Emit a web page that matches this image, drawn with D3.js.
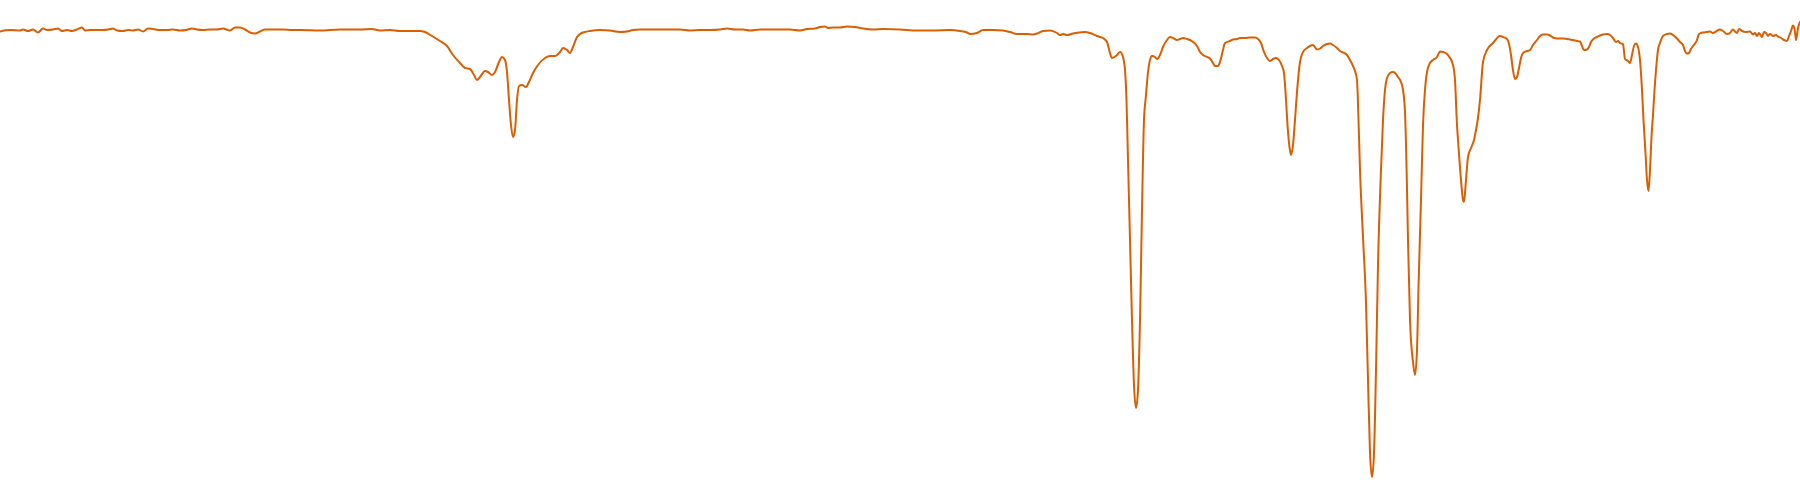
<!DOCTYPE html>
<html>
<head>
<meta charset="utf-8">
<script src="https://cdn.jsdelivr.net/npm/d3@7"></script>
<style>
html, body { margin: 0; padding: 0; background: #ffffff; }
svg { display: block; }
</style>
</head>
<body>
<svg id="chart" width="1800" height="500"></svg>
<script>
// Wavenumber (cm^-1)
const wavenumber = [
4000,3980,3960,3954,3944,3934,3924,3914,3906,3894,3884,3876,3866,3856,3846,3836,3830,3820,3806,3794,
3784,3774,3766,3754,3744,3734,3724,3714,3704,3694,3680,3666,3654,3640,3628,3616,3606,3594,3580,3566,
3554,3540,3530,3520,3510,3500,3490,3480,3470,3454,3434,3414,3400,
3360,3320,3280,3256,3240,3220,3200,3180,3160,3150,3136,3120,3106,3094,3080,3070,3060,3052,3046,3040,
3030,3024,3016,3010,3002,2996,2990,2986,2982,2978,2974,2970,2966,2962,2956,2948,2942,2934,2924,2910,
2900,2890,2880,2874,2866,2860,2854,2846,2840,2830,2820,2800,
2780,2760,2746,2734,2720,2700,2680,2660,2640,2620,2600,2580,2560,2546,2530,2514,2500,2480,2460,2440,
2420,2400,2386,2370,2360,2350,2344,2334,2320,2306,2290,2274,2254,2234,2200,
2166,2134,2100,2080,2066,2060,2046,2034,2014,1994,1980,1966,1946,1934,1926,1914,1900,1886,1880,1874,
1866,1854,1840,1830,1820,1806,1800,1794,1786,1780,1776,1766,1760,1754,1750,1747,1744,1740,1736,1732,
1728,1724,1720,1716,1712,1708,1704,1700,1696,1690,1686,1680,1674,1666,1660,1654,1646,1640,1634,1626,
1620,1614,1606,1600,
1594,1586,1580,1574,1570,1564,1560,1554,1550,1540,1534,1526,1520,1510,1500,1490,1484,1478,1472,1466,
1460,1454,1448,1442,1436,1432,1428,1425,1421,1418,1414,1410,1406,1400,1394,1386,1380,1374,1366,1360,
1354,1346,1340,1334,1326,1320,1314,1306,1300,1294,1290,1286,1283,1280,1274,1268,1264,1260,1256,1252,
1248,1244,1238,1234,1230,1226,1220,1214,1210,1204,1198,1194,1190,1187,1184,1180,1174,1170,1166,1163,
1158,1154,1150,1146,1140,1134,1126,1120,1114,1106,1100,1094,1090,1086,1083,1078,1074,1072,1068,1064,
1058,1052,1048,1044,1040,1034,1026,1014,1000,
994,986,982,978,974,970,966,962,958,954,946,940,934,926,920,914,906,900,894,886,
880,874,866,860,854,846,840,836,832,826,822,818,812,806,800,794,786,780,774,768,
764,760,754,750,744,740,736,732,728,724,720,716,713,709,706,703,700,697,694,691,
688,684,680,674,666,660,654,646,640,634,630,626,622,618,614,606,602,598,594,586,
580,574,568,560,554,546,540,534,530,526,522,516,508,500,494,490,486,482,476,472,
468,464,460,454,448,444,438,432,426,422,418,414,410,408,404,400
];

// Transmittance (%)
const transmittance = [
93.7,94.0,93.9,94.1,93.8,94.1,93.5,94.3,94.0,94.1,94.3,93.8,94.0,93.8,94.1,94.5,93.9,94.0,94.0,94.0,
94.1,94.3,93.9,93.8,94.0,93.9,94.1,93.7,94.3,94.2,94.0,94.0,94.1,93.9,94.0,94.3,94.1,94.0,94.1,94.1,
94.3,93.9,94.5,94.5,94.1,93.5,93.3,93.7,94.1,94.1,94.1,94.0,94.0,
93.9,94.1,94.1,94.2,93.9,94.0,93.8,93.8,93.8,93.6,92.8,91.8,90.8,89.0,87.4,86.4,86.2,85.0,84.0,84.6,
85.8,85.6,85.0,85.6,87.6,88.6,88.0,85.6,80.0,75.0,72.6,74.0,80.0,82.8,83.0,82.6,83.6,85.4,87.0,88.4,
88.8,88.8,89.6,90.4,90.0,89.4,90.6,92.6,93.2,93.6,93.8,94.0,
93.9,93.6,93.7,94.0,94.1,94.1,94.1,94.1,94.1,93.9,94.0,94.0,94.1,94.3,94.1,94.1,93.9,94.1,94.1,94.1,
94.1,93.9,94.2,94.3,94.6,94.7,94.4,94.5,94.5,94.7,94.6,94.3,94.1,94.2,94.1,
93.9,93.9,94.0,93.8,93.5,93.2,93.4,94.0,94.0,93.9,93.6,93.2,93.2,93.1,93.3,93.8,93.9,93.4,93.0,93.2,
93.0,93.3,93.5,93.6,93.4,92.8,92.6,92.4,91.6,89.4,88.4,89.0,89.6,88.6,86.0,80.0,68.0,52.0,36.0,23.0,
18.4,22.0,36.0,58.0,76.0,81.0,85.6,88.0,88.8,88.6,88.2,89.0,90.6,92.0,92.6,92.4,92.0,92.2,92.4,92.2,
92.0,91.6,90.8,89.6,
89.0,88.6,88.3,87.4,86.8,86.8,87.6,90.0,91.4,91.8,92.1,92.2,92.4,92.4,92.5,92.5,92.2,91.4,89.6,88.4,
87.8,88.2,88.4,88.0,86.8,85.4,80.0,75.0,70.6,69.0,71.0,76.0,81.6,87.6,89.6,90.4,90.8,91.0,90.1,90.3,
90.8,91.2,91.3,91.0,90.4,89.8,89.5,89.0,88.0,86.8,85.8,84.0,76.0,66.0,52.6,39.4,24.0,9.4,4.6,9.4,
26.0,47.0,66.0,76.0,82.0,84.4,85.4,85.6,85.4,84.6,83.6,82.0,77.6,67.0,52.0,36.0,27.6,25.0,30.0,42.6,
60.0,75.0,82.0,85.6,87.4,88.0,88.6,89.7,89.6,89.2,88.4,87.0,84.0,75.0,70.6,64.0,60.0,59.6,64.0,68.6,
70.4,72.0,74.0,76.4,80.0,87.6,90.0,91.4,92.8,
92.6,92.2,91.2,89.0,86.0,84.2,84.6,86.4,88.4,89.4,89.8,90.0,91.0,92.0,92.8,93.1,93.1,92.9,92.5,92.3,
92.3,92.3,92.2,92.1,92.0,91.8,91.7,90.8,90.0,90.1,90.6,91.6,92.3,92.6,92.9,93.1,93.2,93.0,92.4,91.6,
91.8,91.4,91.2,88.2,87.8,87.4,89.0,90.8,91.3,90.6,88.0,82.0,76.0,69.4,64.0,61.8,66.0,72.6,77.0,82.0,
86.0,90.0,91.4,92.8,93.2,93.3,93.0,92.3,91.6,91.0,89.8,89.3,89.4,90.2,90.8,92.0,93.2,93.4,93.5,93.6,
93.7,93.4,93.7,94.1,93.8,93.2,93.4,94.1,93.7,93.4,94.2,93.8,93.6,93.7,93.1,93.4,92.8,93.4,92.6,93.6,
93.4,92.8,93.2,92.8,93.0,92.7,92.4,92.0,91.8,92.8,93.8,94.9,93.6,92.0,94.4,95.6
];

const data = wavenumber.map((w, i) => ({ w: w, t: transmittance[i] }));

const width = 1800, height = 500;
const svg = d3.select("#chart");

const x = d3.scaleLinear().domain([4000, 400]).range([0, width]);
const y = d3.scaleLinear().domain([0, 100]).range([height, 0]);

const line = d3.line()
  .x(d => x(d.w))
  .y(d => y(d.t))
  .curve(d3.curveMonotoneX);

svg.append("path")
  .datum(data)
  .attr("fill", "none")
  .attr("stroke", "#d95f02")
  .attr("stroke-width", 2)
  .attr("stroke-linejoin", "round")
  .attr("stroke-linecap", "round")
  .attr("d", line);
</script>
</body>
</html>
